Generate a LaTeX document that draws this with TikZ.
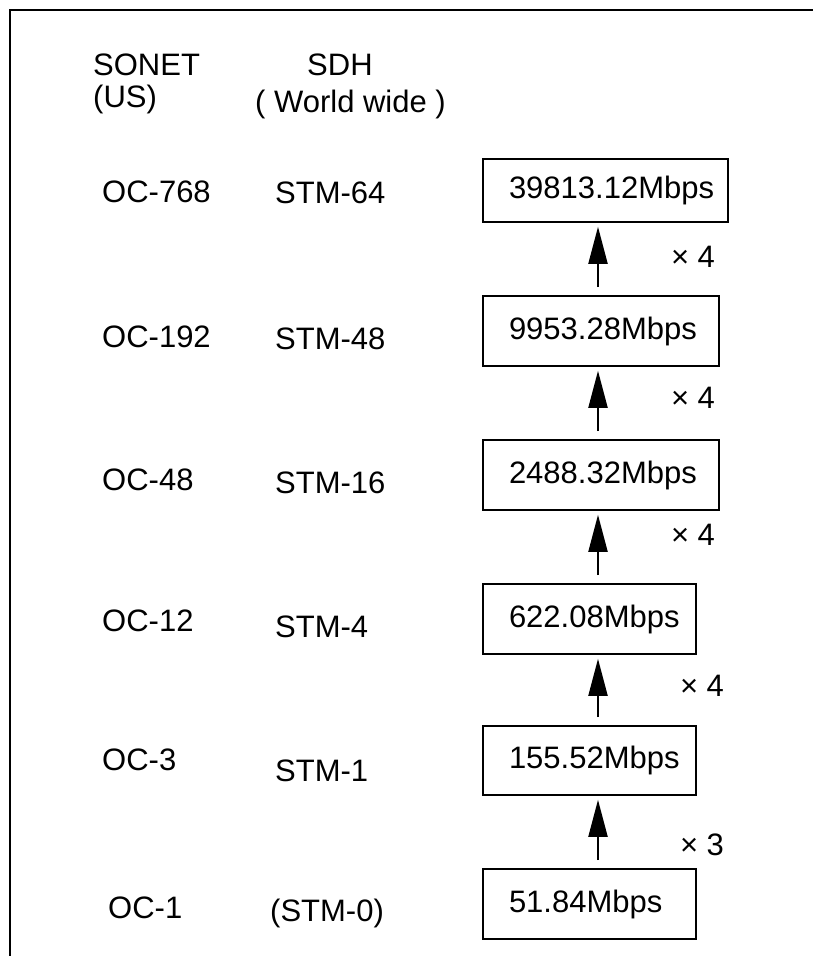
\documentclass[tikz,border=0pt]{standalone}
\usepackage{fontspec}
\setmainfont{Liberation Sans}
\usetikzlibrary{arrows.meta}
\definecolor{sdhInk}{HTML}{000000}
\tikzset{
  every picture/.style={font=\fontsize{31}{34}\selectfont, text=sdhInk},
  rate box/.style={draw=sdhInk, line width=1.6pt, minimum height=70pt,
    text width=#1, inner xsep=0pt, inner ysep=0pt, align=left,
    execute at begin node={\hspace*{26pt}}},
  rate arrow/.style={-{Triangle[length=37pt,width=19pt]},
    draw=sdhInk, line width=2pt, shorten <=8pt, shorten >=4pt},
  std label/.style={anchor=base west, inner sep=0pt},
  mult label/.style={inner sep=0pt},
  frame line/.style={draw=sdhInk, line width=2pt}
}
\begin{document}
\begin{tikzpicture}[x=1pt,y=-1pt]
  \useasboundingbox (0,0) rectangle (813,956);
  \draw[frame line] (10,956) -- (10,10) -- (813,10);
  % headings
  \node[std label] (sonet) at (93,75) {SONET};
  \node[std label] (us) at (93,107) {(US)};
  \node[std label] (sdh) at (307,75) {SDH};
  \node[std label] (world) at (255,112) {( World wide )};
  % SONET / SDH levels
  \node[std label] (oc768) at (102,202) {OC-768};
  \node[std label] (oc192) at (102,347) {OC-192};
  \node[std label] (oc48) at (102,490) {OC-48};
  \node[std label] (oc12) at (102,631) {OC-12};
  \node[std label] (oc3) at (102,770) {OC-3};
  \node[std label] (oc1) at (108,918) {OC-1};
  \node[std label] (stm64) at (275,203) {STM-64};
  \node[std label] (stm48) at (275,349) {STM-48};
  \node[std label] (stm16) at (275,493) {STM-16};
  \node[std label] (stm4) at (275,637) {STM-4};
  \node[std label] (stm1) at (275,781) {STM-1};
  \node[std label] (stm0) at (270,921) {(STM-0)};
  % rates
  \node[rate box=245pt, minimum height=63pt] (b768) at (605.5,190.5) {39813.12Mbps};
  \node[rate box=236pt] (b192) at (601,331) {9953.28Mbps};
  \node[rate box=236pt] (b48) at (601,475) {2488.32Mbps};
  \node[rate box=213pt] (b12) at (589.5,619) {622.08Mbps};
  \node[rate box=213pt, minimum height=69pt] (b3) at (589.5,760.5) {155.52Mbps};
  \node[rate box=213pt] (b1) at (589.5,904) {51.84Mbps};
  \coordinate (col) at (598,0);
  \draw[rate arrow] (col |- b192.north) -- (col |- b768.south);
  \draw[rate arrow] (col |- b48.north) -- (col |- b192.south);
  \draw[rate arrow] (col |- b12.north) -- (col |- b48.south);
  \draw[rate arrow] (col |- b3.north) -- (col |- b12.south);
  \draw[rate arrow] (col |- b1.north) -- (col |- b3.south);
  \node[mult label] (x768) at (693,257) {× 4};
  \node[mult label] (x192) at (693,398) {× 4};
  \node[mult label] (x48) at (693,535) {× 4};
  \node[mult label] (x12) at (702,686) {× 4};
  \node[mult label] (x3) at (702,845) {× 3};
\end{tikzpicture}
\end{document}
